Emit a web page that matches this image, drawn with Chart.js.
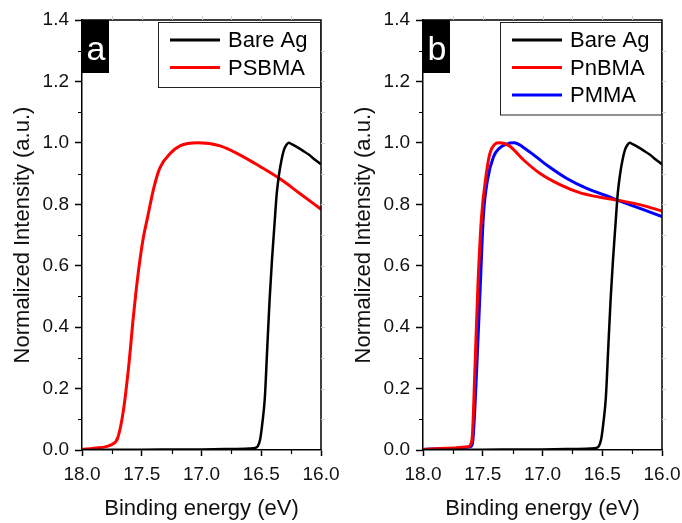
<!DOCTYPE html>
<html>
<head>
<meta charset="utf-8">
<script src="https://cdn.jsdelivr.net/npm/chart.js@4/dist/chart.umd.min.js"></script>
<style>
  body { margin: 0; background: #fff; }
  .panel { position: absolute; top: 0; width: 341px; height: 523px; }
</style>
</head>
<body>
<div class="panel" style="left:0"><canvas id="chartA" width="341" height="523"></canvas></div>
<div class="panel" style="left:341px"><canvas id="chartB" width="341" height="523"></canvas></div>
<script>
// Bare Ag (same curve in both panels)
const agEnergy    = [18.0, 17.5, 17.0, 16.8, 16.6, 16.55, 16.53, 16.51, 16.49, 16.47, 16.45, 16.43, 16.41, 16.39, 16.37, 16.35, 16.33, 16.31, 16.29, 16.27, 16.25, 16.2, 16.15, 16.1, 16.05, 16.0];
const agIntensity = [0.0, 0.001, 0.002, 0.003, 0.005, 0.007, 0.012, 0.033, 0.09, 0.17, 0.33, 0.49, 0.62, 0.73, 0.836, 0.90, 0.945, 0.977, 0.993, 1.0, 0.997, 0.986, 0.974, 0.961, 0.945, 0.93];

// panel a
const psbmaEnergy    = [18.0, 17.9, 17.75, 17.70, 17.655, 17.61, 17.57, 17.53, 17.49, 17.45, 17.40, 17.35, 17.26, 17.18, 17.03, 16.845, 16.68, 16.51, 16.34, 16.18, 16.0];
const psbmaIntensity = [0.002, 0.006, 0.018, 0.041, 0.125, 0.27, 0.434, 0.575, 0.684, 0.76, 0.852, 0.917, 0.966, 0.99, 1.0, 0.99, 0.961, 0.923, 0.882, 0.836, 0.784];

// panel b
const pnbmaEnergy    = [18.0, 17.8, 17.62, 17.59, 17.565, 17.54, 17.51, 17.47, 17.44, 17.40, 17.37, 17.32, 17.27, 17.16, 17.02, 16.85, 16.69, 16.52, 16.35, 16.18, 16.0];
const pnbmaIntensity = [0.002, 0.006, 0.011, 0.033, 0.27, 0.54, 0.76, 0.90, 0.966, 0.995, 1.0, 0.998, 0.988, 0.945, 0.90, 0.863, 0.838, 0.823, 0.812, 0.798, 0.778];
const pmmaEnergy     = [18.0, 17.8, 17.60, 17.58, 17.55, 17.52, 17.495, 17.46, 17.41, 17.36, 17.30, 17.24, 17.13, 16.965, 16.80, 16.63, 16.46, 16.30, 16.15, 16.0];
const pmmaIntensity  = [0.002, 0.005, 0.011, 0.043, 0.27, 0.54, 0.76, 0.88, 0.955, 0.983, 0.996, 1.0, 0.977, 0.928, 0.885, 0.852, 0.827, 0.803, 0.782, 0.76];

const xTicks = [18.0, 17.5, 17.0, 16.5, 16.0];
const yTicks = [0.0, 0.2, 0.4, 0.6, 0.8, 1.0, 1.2, 1.4];

const FONT = 'Arial, "Liberation Sans", sans-serif';

function toPoints(xs, ys) {
    return xs.map((x, i) => ({ x: x, y: ys[i] }));
}

function makeSet(label, xs, ys, color, width) {
    return {
        label: label,
        data: toPoints(xs, ys),
        borderColor: color,
        backgroundColor: color,
        borderWidth: width,
        pointRadius: 0,
        fill: false,
        cubicInterpolationMode: 'monotone'
    };
}

// frame, minor ticks, panel letter and legend box
const decorPlugin = {
    id: 'decor',
    afterDraw(chart, args, opts) {
        const ctx = chart.ctx;
        const area = chart.chartArea;
        const xs = chart.scales.x, ys = chart.scales.y;
        ctx.save();

        ctx.strokeStyle = '#000';
        ctx.lineWidth = 1.5;
        ctx.beginPath();
        ctx.moveTo(area.left, area.top);
        ctx.lineTo(area.right, area.top);
        ctx.lineTo(area.right, area.bottom);
        ctx.stroke();

        // minor ticks
        ctx.lineWidth = 1.2;
        ctx.beginPath();
        for (let v = 0.1; v < 1.4; v += 0.2) {
            const py = Math.round(ys.getPixelForValue(v)) + 0.5;
            ctx.moveTo(area.left - 4, py);
            ctx.lineTo(area.left, py);
        }
        [17.75, 17.25, 16.75, 16.25].forEach(v => {
            const px = Math.round(xs.getPixelForValue(v)) + 0.5;
            ctx.moveTo(px, area.bottom);
            ctx.lineTo(px, area.bottom + 4);
        });
        ctx.stroke();

        // faint ticks on the mirror axes
        ctx.strokeStyle = '#d0d0d0';
        ctx.lineWidth = 1;
        ctx.beginPath();
        for (let v = 16.25; v < 18; v += 0.25) {
            const px = Math.round(xs.getPixelForValue(v)) + 0.5;
            ctx.moveTo(px, area.top);
            ctx.lineTo(px, area.top - 4);
        }
        for (let v = 0.1; v < 1.4; v += 0.1) {
            const py = Math.round(ys.getPixelForValue(v)) + 0.5;
            ctx.moveTo(area.right, py);
            ctx.lineTo(area.right + 4, py);
        }
        ctx.stroke();

        // panel letter
        ctx.fillStyle = '#000';
        ctx.fillRect(area.left, area.top, 27, 53);
        ctx.fillStyle = '#fff';
        ctx.font = '34px ' + FONT;
        ctx.textAlign = 'center';
        ctx.textBaseline = 'alphabetic';
        ctx.fillText(opts.letter, area.left + 14, area.top + 40);

        // legend
        const sets = chart.data.datasets;
        const boxL = area.left + opts.legendLeft;
        const boxT = area.top + 2;
        const boxW = area.right - 1 - boxL;
        const boxH = 10 + sets.length * 27.5;
        ctx.strokeStyle = '#222';
        ctx.lineWidth = 1;
        ctx.strokeRect(boxL + 0.5, boxT + 0.5, boxW, boxH);
        ctx.font = '22px ' + FONT;
        ctx.textAlign = 'left';
        ctx.textBaseline = 'middle';
        sets.forEach((ds, i) => {
            const cy = boxT + 18 + i * 27.5;
            ctx.strokeStyle = ds.borderColor;
            ctx.lineWidth = 3;
            ctx.beginPath();
            ctx.moveTo(boxL + 12, cy);
            ctx.lineTo(boxL + 62, cy);
            ctx.stroke();
            ctx.fillStyle = '#000';
            ctx.fillText(ds.label, boxL + 70, cy + 1);
        });
        ctx.restore();
    }
};

function buildChart(id, datasets, letter, legendLeft) {
    const ctx = document.getElementById(id).getContext('2d');
    return new Chart(ctx, {
        type: 'line',
        data: { datasets: datasets },
        options: {
            responsive: false,
            animation: false,
            layout: { padding: { left: 0, right: 20, top: 20, bottom: 0 } },
            plugins: {
                legend: { display: false },
                tooltip: { enabled: false },
                decor: { letter: letter, legendLeft: legendLeft }
            },
            scales: {
                x: {
                    type: 'linear',
                    min: 16, max: 18,
                    reverse: true,
                    afterFit: s => { s.height = 73; s.paddingLeft = 0; s.paddingRight = 0; },
                    afterBuildTicks: s => { s.ticks = xTicks.map(v => ({ value: v })); },
                    ticks: {
                        color: '#111',
                        font: { family: FONT, size: 19 },
                        padding: 7,
                        maxRotation: 0,
                        callback: v => v.toFixed(1)
                    },
                    grid: { drawOnChartArea: false, tickLength: 6, tickColor: '#000', tickWidth: 1.5 },
                    border: { color: '#000', width: 1.5 },
                    title: {
                        display: true,
                        text: 'Binding energy (eV)',
                        color: '#111',
                        font: { family: FONT, size: 22 },
                        padding: { top: 0, bottom: 1 }
                    }
                },
                y: {
                    min: 0, max: 1.4,
                    afterFit: s => { s.width = 82; s.paddingTop = 0; s.paddingBottom = 0; },
                    afterBuildTicks: s => { s.ticks = yTicks.map(v => ({ value: v })); },
                    ticks: {
                        color: '#111',
                        font: { family: FONT, size: 19 },
                        padding: 6,
                        callback: v => v.toFixed(1)
                    },
                    grid: { drawOnChartArea: false, tickLength: 7, tickColor: '#000', tickWidth: 1.5 },
                    border: { color: '#000', width: 1.5 },
                    title: {
                        display: true,
                        text: 'Normalized Intensity (a.u.)',
                        color: '#111',
                        font: { family: FONT, size: 22 },
                        padding: { top: 10, bottom: 0 }
                    }
                }
            }
        },
        plugins: [decorPlugin]
    });
}

buildChart('chartA', [
    makeSet('Bare Ag', agEnergy, agIntensity, '#000000', 2.5),
    makeSet('PSBMA', psbmaEnergy, psbmaIntensity, '#ff0000', 3)
], 'a', 76);

buildChart('chartB', [
    makeSet('Bare Ag', agEnergy, agIntensity, '#000000', 2.5),
    makeSet('PnBMA', pnbmaEnergy, pnbmaIntensity, '#ff0000', 3),
    makeSet('PMMA', pmmaEnergy, pmmaIntensity, '#0000ff', 3)
], 'b', 77);
</script>
</body>
</html>
